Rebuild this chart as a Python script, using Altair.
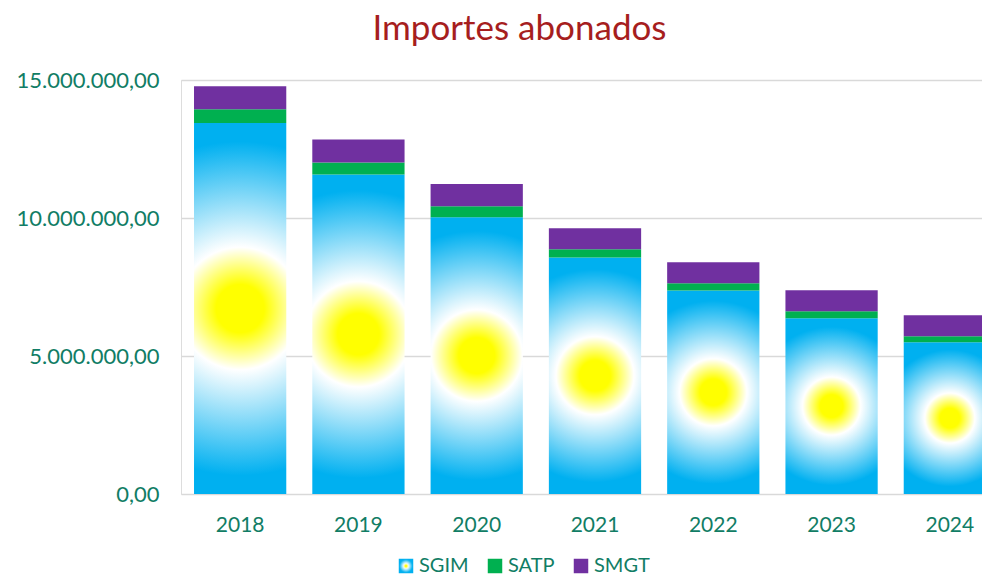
import altair as alt
import pandas as pd

years = ["2018", "2019", "2020", "2021", "2022", "2023", "2024"]
series = ["SGIM", "SATP", "SMGT"]
sgim = [13440000, 11580000, 10030000, 8570000, 7370000, 6370000, 5500000]
satp = [500000, 430000, 400000, 300000, 270000, 250000, 220000]
smgt = [830000, 830000, 800000, 760000, 760000, 760000, 760000]
y_ticks = [0, 5000000, 10000000, 15000000]

rows = []
for i, yr in enumerate(years):
    for k, (name, vals) in enumerate(zip(series, [sgim, satp, smgt])):
        rows.append({"anio": yr, "serie": name, "valor": vals[i], "orden": k})
df = pd.DataFrame(rows)

TEAL = "#117D65"
FONT = "Lato"

sgim_gradient = alt.ExprRef(
    expr="{gradient: 'radial', x1: 0.5, y1: 0.5, r1: 0, x2: 0.5, y2: 0.5, r2: 0.5, "
    "stops: [{offset: 0, color: '#FFFF00'}, {offset: 0.13, color: '#FFFF00'}, "
    "{offset: 0.33, color: '#FFFFFF'}, {offset: 0.9, color: '#00B0F0'}, {offset: 1, color: '#00B0F0'}]}"
)

chart = (
    alt.Chart(df)
    .mark_bar(clip=True, strokeWidth=0)
    .encode(
        x=alt.X(
            "anio:N",
            sort=years,
            title=None,
            scale=alt.Scale(range=[0, 828], paddingInner=0.22, paddingOuter=0.11),
            axis=alt.Axis(
                labelAngle=0,
                domain=False,
                ticks=False,
                grid=False,
                labelFont=FONT,
                labelFontSize=21,
                labelColor=TEAL,
                labelPadding=20,
            ),
        ),
        y=alt.Y(
            "valor:Q",
            stack="zero",
            title=None,
            scale=alt.Scale(domain=[0, 15000000], nice=False),
            axis=alt.Axis(
                values=y_ticks,
                format=",.2f",
                domain=False,
                ticks=False,
                grid=True,
                gridColor="#D9D9D9",
                gridWidth=1.6,
                labelFont=FONT,
                labelFontSize=22,
                labelColor=TEAL,
                labelPadding=22,
            ),
        ),
        color=alt.Color(
            "serie:N",
            scale=alt.Scale(domain=series, range=[sgim_gradient, "#00B050", "#7030A0"]),
            legend=alt.Legend(
                title=None,
                orient="none",
                direction="horizontal",
                legendX=215,
                legendY=476,
                symbolType="square",
                symbolSize=210,
                symbolStrokeWidth=0,
                symbolOpacity=1,
                labelFont=FONT,
                labelFontSize=20,
                labelColor=TEAL,
                labelOffset=3,
                columnPadding=16,
            ),
        ),
        order=alt.Order("orden:Q", sort="ascending"),
    )
    .properties(
        width=801,
        height=414,
        autosize=alt.AutoSizeParams(type="none"),
        padding={"left": 173, "top": 72, "right": 0, "bottom": 85},
        title=alt.TitleParams(
            "Importes abonados",
            font=FONT,
            fontSize=35,
            fontWeight="normal",
            color="#A61E1E",
            anchor="middle",
            dx=-62,
            dy=39,
            offset=33,
            baseline="alphabetic",
        ),
    )
    .configure_view(stroke=None)
    .configure(
        locale={
            "number": {
                "decimal": ",",
                "thousands": ".",
                "grouping": [3],
                "currency": ["", " €"],
            }
        }
    )
)

chart.save("out.html", embed_options={"renderer": "svg", "actions": False})
